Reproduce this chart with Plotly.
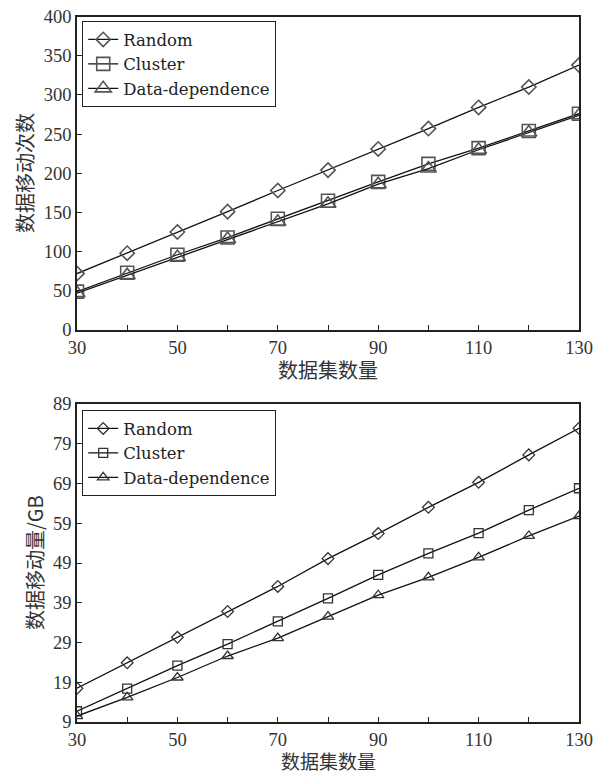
import plotly.graph_objects as go

x_vals = [30, 40, 50, 60, 70, 80, 90, 100, 110, 120, 130]

# Top chart: data movement count
top_random = [72, 98, 125, 151, 178, 204, 231, 257, 284, 310, 338]
top_cluster = [49, 73, 96, 118, 142, 165, 189, 212, 232, 254, 276]
top_datadep = [47, 70, 93, 116, 138, 161, 186, 206, 230, 252, 274]

# Bottom chart: data movement volume (GB)
bot_random = [17.5, 23.9, 30.3, 36.8, 43.1, 50.1, 56.4, 63.0, 69.3, 76.2, 82.9]
bot_cluster = [11.7, 17.4, 23.2, 28.6, 34.3, 40.1, 46.0, 51.4, 56.5, 62.3, 67.8]
bot_datadep = [10.5, 15.2, 20.2, 25.6, 30.1, 35.5, 40.9, 45.4, 50.4, 55.8, 60.8]

series_names = ["Random", "Cluster", "Data-dependence"]
symbols = ["diamond-open", "square-open", "triangle-up-open"]

x_tickvals = [30, 40, 50, 60, 70, 80, 90, 100, 110, 120, 130]
x_ticktext = ["30", "", "50", "", "70", "", "90", "", "110", "", "130"]
top_yticks = [0, 50, 100, 150, 200, 250, 300, 350, 400]
bot_yticks = [9, 19, 29, 39, 49, 59, 69, 79, 89]

top_title_y = "数据移动次数"
bot_title_y = "数据移动量/GB"
title_x = "数据集数量"

W, H = 611, 776
serif = "Liberation Serif"
legend_font = "DejaVu Serif"
cjk = "Noto Sans CJK SC"

fig = go.Figure()

top_sizes = [11, 13, 14]
bot_sizes = [9, 9, 10]
for name, sym, ys, sz in zip(series_names, symbols, [top_random, top_cluster, top_datadep], top_sizes):
    fig.add_trace(go.Scatter(
        x=x_vals, y=ys, name=name, mode="lines+markers",
        line=dict(color="#111", width=1.3),
        marker=dict(symbol=sym, size=sz, color="#555", line=dict(width=1.6, color="#555")),
        xaxis="x", yaxis="y", legend="legend"))
for name, sym, ys, sz in zip(series_names, symbols, [bot_random, bot_cluster, bot_datadep], bot_sizes):
    fig.add_trace(go.Scatter(
        x=x_vals, y=ys, name=name, mode="lines+markers",
        line=dict(color="#111", width=1.3),
        marker=dict(symbol=sym, size=sz, color="#333", line=dict(width=1.3, color="#333")),
        xaxis="x2", yaxis="y2", legend="legend2"))

xl, xr = 77 / W, 579 / W
top_dom = [1 - 330 / H, 1 - 16.5 / H]
bot_dom = [1 - 722 / H, 1 - 404 / H]

axis_common = dict(showline=True, linecolor="#222", linewidth=1.5, mirror=True,
                   ticks="inside", ticklen=5, tickcolor="#222", tickwidth=1.2,
                   showgrid=False, zeroline=False, automargin=False,
                   tickfont=dict(family=serif, size=18.5, color="#333"))

def ann(text, px, py, angle=0, size=20, yanchor="middle"):
    return dict(text=text, x=px / W, y=1 - py / H, xref="paper", yref="paper",
                xanchor="center", yanchor=yanchor, showarrow=False,
                textangle=angle, font=dict(family=cjk, size=size, color="#333"))

fig.update_layout(
    width=W, height=H, margin=dict(l=0, r=0, t=0, b=0),
    paper_bgcolor="white", plot_bgcolor="white",
    xaxis=dict(domain=[xl, xr], anchor="y", range=[30, 130], tickvals=x_tickvals,
               ticktext=x_ticktext, **axis_common),
    yaxis=dict(domain=top_dom, anchor="x", range=[0, 400], tickvals=top_yticks,
               **axis_common),
    xaxis2=dict(domain=[xl, xr], anchor="y2", range=[30, 130], tickvals=x_tickvals,
                ticktext=x_ticktext, **axis_common),
    yaxis2=dict(domain=bot_dom, anchor="x2", range=[9, 89], tickvals=bot_yticks,
                **axis_common),
    annotations=[
        ann(title_x, 328, 369),
        ann(title_x, 328, 776, size=19, yanchor="bottom"),
        ann(top_title_y, 24, 173, -90),
        ann(bot_title_y, 34, 563, -90),
    ],
    legend=dict(x=82 / W, y=1 - 21 / H, xanchor="left", yanchor="top",
                bordercolor="#222", borderwidth=1.2, bgcolor="white",
                font=dict(family=legend_font, size=16.5, color="#222"), tracegroupgap=0,
                itemsizing="trace"),
    legend2=dict(x=82 / W, y=1 - 410 / H, xanchor="left", yanchor="top",
                 bordercolor="#222", borderwidth=1.2, bgcolor="white",
                 font=dict(family=legend_font, size=16.5, color="#222"), tracegroupgap=0,
                 itemsizing="trace"),
    showlegend=True,
)

fig.write_html("out.html")
